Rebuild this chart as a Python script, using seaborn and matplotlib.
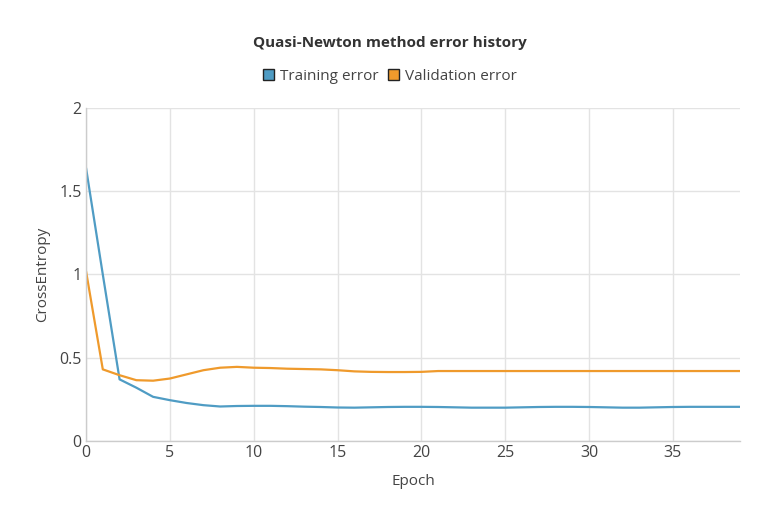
import pandas as pd
import matplotlib
matplotlib.use("Agg")
import matplotlib.pyplot as plt
import seaborn as sns

# error history per epoch
epochs = list(range(40))
training_error = [1.64, 1.00, 0.37, 0.32, 0.265, 0.245, 0.228, 0.215, 0.207, 0.21,
                  0.211, 0.211, 0.209, 0.206, 0.204, 0.201, 0.200, 0.202, 0.204, 0.205,
                  0.205, 0.204, 0.202, 0.200, 0.200, 0.200, 0.202, 0.204, 0.205, 0.205,
                  0.204, 0.202, 0.200, 0.200, 0.202, 0.204, 0.205, 0.205, 0.205, 0.205]
validation_error = [1.02, 0.43, 0.395, 0.365, 0.362, 0.375, 0.40, 0.425, 0.44, 0.445,
                    0.44, 0.438, 0.434, 0.432, 0.43, 0.425, 0.418, 0.415, 0.414, 0.414,
                    0.415, 0.42, 0.42, 0.42, 0.42, 0.42, 0.42, 0.42, 0.42, 0.42,
                    0.42, 0.42, 0.42, 0.42, 0.42, 0.42, 0.42, 0.42, 0.42, 0.42]
series_names = ["Training error", "Validation error"]
colors = ["#4f9cc4", "#ef9a2c"]

df = pd.DataFrame({
    "Epoch": epochs * 2,
    "CrossEntropy": training_error + validation_error,
    "series": [series_names[0]] * len(epochs) + [series_names[1]] * len(epochs),
})

sns.set_theme(style="whitegrid")
plt.rcParams["font.family"] = ["Open Sans", "DejaVu Sans"]

fig = plt.figure(figsize=(7.8, 5.2), dpi=100)
ax = fig.add_axes([0.1103, 0.152, 0.8384, 0.6403])

sns.lineplot(data=df, x="Epoch", y="CrossEntropy", hue="series",
             palette=colors, linewidth=1.6, ax=ax, legend=False)

ax.set_xlim(0, 39)
ax.set_ylim(0, 2)
ax.set_xticks(range(0, 40, 5))
ax.set_yticks([0, 0.5, 1, 1.5, 2])
ax.set_yticklabels(["0", "0.5", "1", "1.5", "2"])
ax.grid(True, color="#e3e3e3", linewidth=1)
ax.tick_params(axis="both", labelsize=11.5, colors="#444444", length=0, pad=3)
for side in ["top", "right"]:
    ax.spines[side].set_visible(False)
for side in ["left", "bottom"]:
    ax.spines[side].set_color("#cccccc")
    ax.spines[side].set_linewidth(1)
ax.set_xlabel("Epoch", fontsize=11, color="#444444", labelpad=9)
ax.set_ylabel("CrossEntropy", fontsize=11, color="#444444", labelpad=7)

fig.text(0.5, 0.918, "Quasi-Newton method error history", ha="center", va="center",
         fontsize=11, fontweight="bold", color="#333333")

handles = [plt.Rectangle((0, 0), 1, 1, facecolor=c, edgecolor="#222222", linewidth=1)
           for c in colors]
fig.legend(handles, series_names, loc="center", bbox_to_anchor=(0.5, 0.853),
           ncol=2, frameon=False, fontsize=11, handlelength=0.7, handleheight=0.7,
           handletextpad=0.4, columnspacing=0.6, labelcolor="#444444")

fig.savefig("out.png", dpi=100)
